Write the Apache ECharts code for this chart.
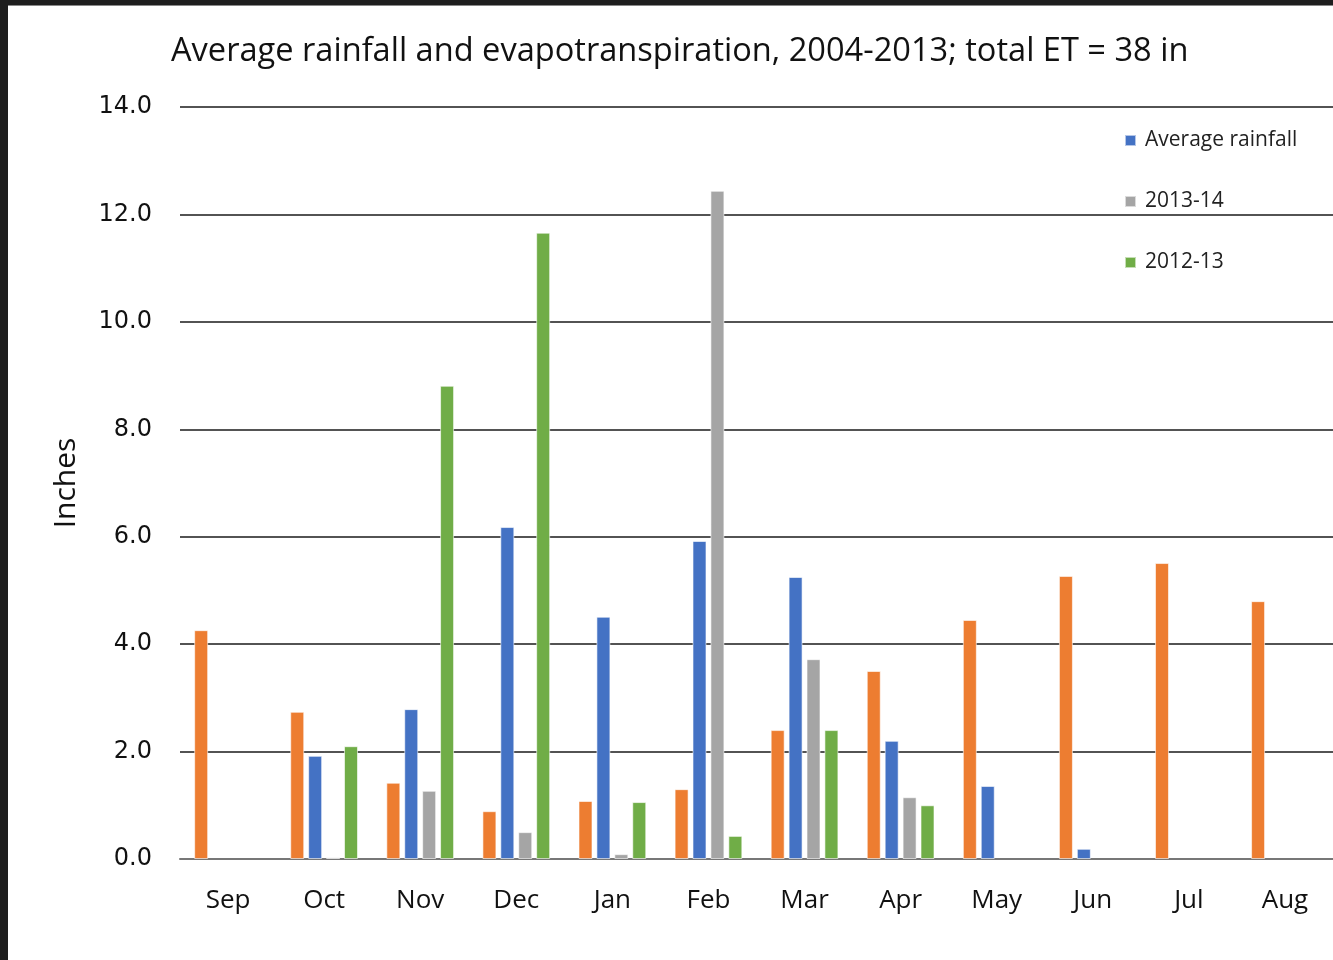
<!DOCTYPE html>
<html>
<head>
<meta charset="utf-8">
<script src="https://cdn.jsdelivr.net/npm/echarts@6/dist/echarts.min.js"></script>
<style>
html,body{margin:0;padding:0;background:#fff;}
#chart{width:1333px;height:960px;}
</style>
</head>
<body>
<div id="chart"></div>
<script>
var months = ['Sep','Oct','Nov','Dec','Jan','Feb','Mar','Apr','May','Jun','Jul','Aug'];
var etValues = [4.26, 2.74, 1.42, 0.89, 1.08, 1.30, 2.40, 3.50, 4.45, 5.27, 5.51, 4.80];
var avgRainfall = [null, 1.92, 2.79, 6.18, 4.51, 5.92, 5.25, 2.20, 1.36, 0.19, null, null];
var rain2013_14 = [null, 0.03, 1.27, 0.50, 0.09, 12.44, 3.72, 1.15, null, null, null, null];
var rain2012_13 = [null, 2.10, 8.81, 11.66, 1.06, 0.43, 2.40, 1.00, null, null, null, null];
var yTicks = {min: 0, max: 14, interval: 2};

var chart = echarts.init(document.getElementById('chart'));
var barBorder = {borderColor: 'rgba(255,255,255,0.6)', borderWidth: 1};
function mkSeries(name, data, color) {
  return {
    name: name, type: 'bar', data: data,
    barWidth: 14, barGap: '28%', barCategoryGap: '29%',
    itemStyle: Object.assign({color: color}, barBorder)
  };
}
chart.setOption({
  backgroundColor: '#fff',
  animation: false,
  title: {
    text: 'Average rainfall and evapotranspiration, 2004-2013; total ET = 38 in',
    left: 166, top: 30,
    textStyle: {fontFamily: 'Open Sans', fontSize: 32.6, fontWeight: 'normal', color: '#111'}
  },
  legend: {
    data: ['Average rainfall', '2013-14', '2012-13'],
    orient: 'vertical', left: 1119, top: 125,
    itemWidth: 11, itemHeight: 11, itemGap: 40, icon: 'rect',
    textStyle: {fontFamily: 'Open Sans', fontSize: 21, color: '#222', padding: [0,0,0,4]}
  },
  grid: {left: 180, right: 0, top: 107, bottom: 101, containLabel: false},
  xAxis: {
    type: 'category', data: months,
    axisTick: {show: false},
    axisLine: {lineStyle: {color: '#777', width: 2}},
    axisLabel: {fontFamily: 'Open Sans', fontSize: 26, color: '#111', margin: 29}
  },
  yAxis: {
    type: 'value', min: yTicks.min, max: yTicks.max, interval: yTicks.interval,
    name: 'Inches', nameLocation: 'middle', nameGap: 99, nameRotate: 90,
    nameTextStyle: {fontFamily: 'Open Sans', fontSize: 30, color: '#111'},
    axisLine: {show: false}, axisTick: {show: false},
    axisLabel: {fontFamily: 'DejaVu Sans', fontSize: 24, color: '#111', margin: 28,
      formatter: function (v) { return v.toFixed(1); }},
    splitLine: {lineStyle: {color: '#1a1a1a', width: 1.6}}
  },
  graphic: [
    {type: 'rect', shape: {x: 0, y: 0, width: 1333, height: 5}, style: {fill: '#1e1e1e'}, z: 100},
    {type: 'rect', shape: {x: 0, y: 5, width: 1333, height: 1}, style: {fill: '#888'}, z: 100},
    {type: 'rect', shape: {x: 0, y: 0, width: 8, height: 960}, style: {fill: '#1e1e1e'}, z: 100}
  ],
  series: [
    mkSeries('Evapotranspiration', etValues, '#ED7D31'),
    mkSeries('Average rainfall', avgRainfall, '#4472C4'),
    mkSeries('2013-14', rain2013_14, '#A5A5A5'),
    mkSeries('2012-13', rain2012_13, '#70AD47')
  ]
});
</script>
</body>
</html>
